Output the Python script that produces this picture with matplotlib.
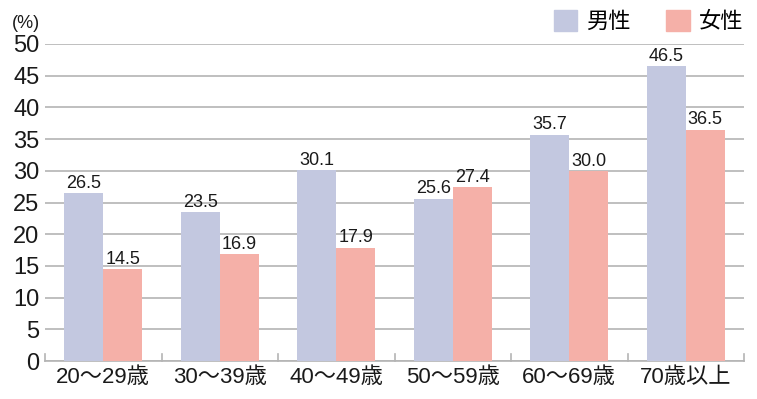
import numpy as np
import matplotlib.pyplot as plt
from matplotlib.patches import Patch

plt.rcParams['font.family'] = ['Liberation Sans', 'Noto Sans CJK JP', 'DejaVu Sans']

# --- データ ---
categories = ["20～29歳", "30～39歳", "40～49歳", "50～59歳", "60～69歳", "70歳以上"]
male = [26.5, 23.5, 30.1, 25.6, 35.7, 46.5]
female = [14.5, 16.9, 17.9, 27.4, 30.0, 36.5]
series_names = ["男性", "女性"]

C_MALE = "#c3c8e0"
C_FEMALE = "#f5b0a8"
C_GRID = "#b4b4b4"
C_TEXT = "#1a1a1a"

fig = plt.figure(figsize=(7.57, 3.99), dpi=100)
ax = fig.add_axes([45 / 757, (399 - 361) / 399, (744 - 45) / 757, (361 - 44) / 399])

x = np.arange(len(categories))
w = 0.335
b1 = ax.bar(x - w / 2, male, w, color=C_MALE, zorder=3)
b2 = ax.bar(x + w / 2, female, w, color=C_FEMALE, zorder=3)

for bars, vals in [(b1, male), (b2, female)]:
    for r, v in zip(bars, vals):
        ax.text(r.get_x() + r.get_width() / 2, v + 0.2, f"{v:.1f}",
                ha="center", va="bottom", fontsize=13, color=C_TEXT, zorder=4)

ax.set_xlim(-0.5, len(categories) - 0.5)
ax.set_ylim(0, 50)
ax.set_yticks(np.arange(0, 51, 5))
ax.yaxis.grid(True, color=C_GRID, linewidth=1.2, zorder=0)
ax.tick_params(axis="y", length=0, labelsize=17, colors=C_TEXT, pad=4)

# 区切り目盛り
ax.set_xticks(x)
ax.set_xticklabels(categories)
ax.tick_params(axis="x", length=0, labelsize=16, colors=C_TEXT, pad=4)
for b in np.arange(-0.5, len(categories), 1.0):
    ax.plot([b, b], [0, 1.1], color=C_GRID, linewidth=1.2, zorder=2, clip_on=False)

for s in ["top", "right", "left"]:
    ax.spines[s].set_visible(False)
ax.spines["bottom"].set_color(C_GRID)
ax.spines["bottom"].set_linewidth(1.2)

fig.text(12 / 757, 1 - 32 / 399, "(%)", fontsize=13, color=C_TEXT, va="bottom")

handles = [Patch(color=C_MALE), Patch(color=C_FEMALE)]
fig.legend(handles, series_names, loc="upper right", bbox_to_anchor=(1.008, 1.025),
           ncol=2, frameon=False, fontsize=16, handlelength=1.05, handleheight=1.05,
           columnspacing=1.6, handletextpad=0.4)

plt.savefig("out.png", dpi=100)
